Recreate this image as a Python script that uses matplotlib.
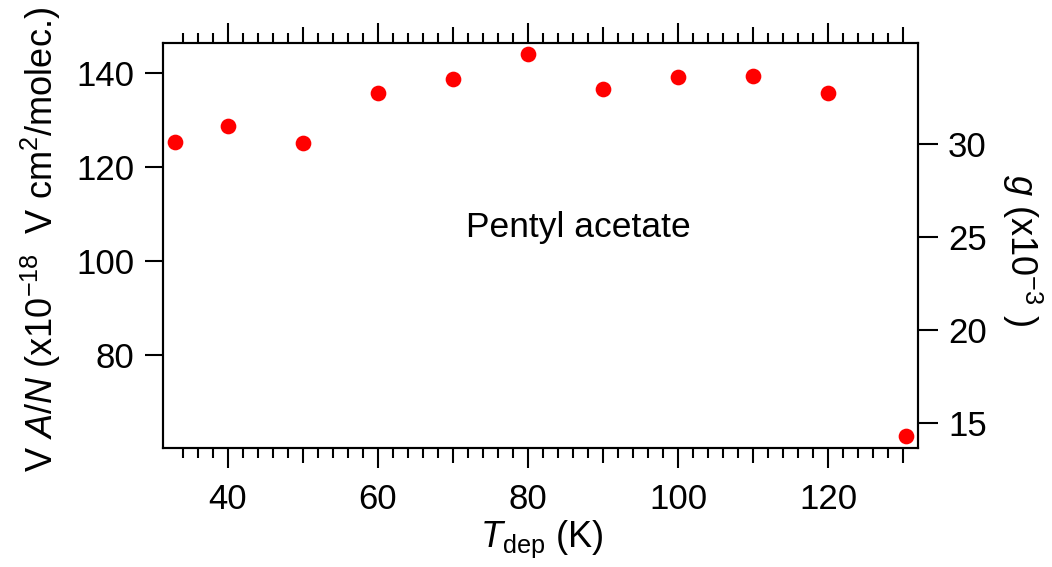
import matplotlib
matplotlib.use("Agg")
import matplotlib.pyplot as plt
from matplotlib.ticker import FixedLocator, FuncFormatter

plt.rcParams['font.family'] = ['Liberation Sans', 'DejaVu Sans']
plt.rcParams['mathtext.fontset'] = 'custom'
plt.rcParams['mathtext.rm'] = 'Liberation Sans'
plt.rcParams['mathtext.it'] = 'Liberation Sans:italic'
plt.rcParams['mathtext.bf'] = 'Liberation Sans:bold'

# Deposition temperature (K) and integrated signal V A/N (x1e-18 V cm^2/molec.)
t_dep = [33, 40, 50, 60, 70, 80, 90, 100, 110, 120, 130.4]
va_n = [125.4, 128.8, 125.2, 135.7, 138.7, 144.0, 136.7, 139.1, 139.4, 135.7, 62.7]

left_ticks = [80, 100, 120, 140]
right_ticks = [15, 20, 25, 30]
x_label_ticks = [40, 60, 80, 100, 120]
sample_name = "Pentyl acetate"

W, H = 1052, 567
TICK_FS = 25
LABEL_FS = 26


def fx(px):
    return px / W


def fy(py):
    return 1 - py / H


fig = plt.figure(figsize=(W / 100, H / 100), dpi=100)
ax = fig.add_axes([fx(163.3), fy(448), (917.7 - 163.3) / W, (448 - 42.7) / H])

ax.plot(t_dep, va_n, linestyle='none', marker='o', ms=11.3, color='#ff0000',
        markeredgewidth=0, clip_on=False, zorder=5)

ax.set_xlim(31.4, 131.95)
ax.set_ylim(60.2, 146.5)

lw = 1.5
for sp in ax.spines.values():
    sp.set_linewidth(lw)

# x axis: long ticks every 20, medium every 10, short every 2, on top and bottom
major_x = list(range(40, 131, 10))
minor_x = [v for v in range(34, 131, 2) if v % 10 != 0]
ax.xaxis.set_major_locator(FixedLocator(major_x))
ax.xaxis.set_minor_locator(FixedLocator(minor_x))
ax.xaxis.set_major_formatter(FuncFormatter(
    lambda v, p: f"{int(round(v))}" if int(round(v)) in x_label_ticks else ""))
ax.tick_params(axis='x', which='major', direction='out', length=14.4, width=lw,
               top=True, bottom=True, labelsize=TICK_FS, pad=10.5)
ax.tick_params(axis='x', which='minor', direction='out', length=7.5, width=lw,
               top=True, bottom=True)

ax.yaxis.set_major_locator(FixedLocator(left_ticks))
ax.tick_params(axis='y', which='major', direction='out', length=13, width=lw,
               labelsize=TICK_FS, pad=8)

fig.canvas.draw()
for tk in ax.xaxis.get_major_ticks():
    v = int(round(tk.get_loc()))
    if v not in x_label_ticks:
        tk.tick1line.set_markersize(10.5)
        tk.tick2line.set_markersize(11.5)

ax2 = ax.twinx()
ax2.set_ylim(13.67, 35.42)
ax2.yaxis.set_major_locator(FixedLocator(right_ticks))
ax2.tick_params(axis='y', which='major', direction='out', length=14.4, width=lw,
                labelsize=TICK_FS, pad=7.5)
for sp in ax2.spines.values():
    sp.set_linewidth(lw)

fig.text(fx(578), fy(236.7), sample_name, fontsize=25.5,
         ha='center', va='baseline')

fig.text(fx(53), fy(240), r'V $A/N$ (x10$^{-18}$  V cm$^{2}$/molec.)',
         rotation=90, rotation_mode='anchor', ha='center', va='baseline',
         fontsize=LABEL_FS)
fig.text(fx(1010), fy(250), r'$g$ (x10$^{-3}$ )',
         rotation=-90, rotation_mode='anchor', ha='center', va='baseline',
         fontsize=LABEL_FS)
fig.text(fx(542), fy(547), r'$T_{\mathrm{dep}}$ (K)',
         ha='center', va='baseline', fontsize=LABEL_FS)

fig.savefig("out.png", dpi=100)
